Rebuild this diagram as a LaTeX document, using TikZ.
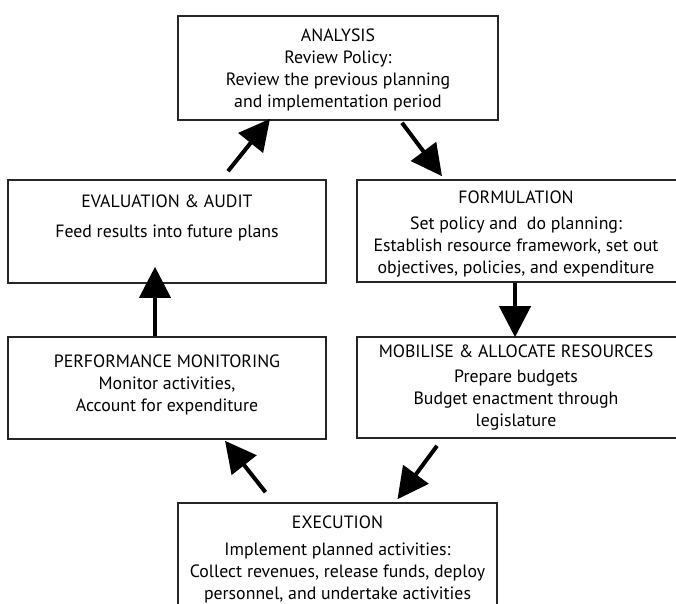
\documentclass[tikz,border=0pt]{standalone}
\usepackage{fontspec}
\setmainfont{PT Sans}
\usetikzlibrary{arrows.meta,calc}
\tikzset{
  box/.style={draw=black!85, line width=1.6pt, rectangle, inner sep=0pt},
  txt/.style={align=center, inner sep=0pt, font=\fontsize{17.8}{22}\selectfont},
  arr/.style={line width=4pt, -{Triangle[length=31pt,width=31pt]}}
}
\begin{document}
\begin{tikzpicture}[x=1pt,y=-1pt]
				\useasboundingbox (0,0) rectangle (676,603);
				% boxes
				\node[box, minimum width=320pt, minimum height=104pt] (analysis) at (338,68) {};
				\node[box, minimum width=318pt, minimum height=103pt] (evalaud) at (167,231.5) {};
				\node[box, minimum width=326pt, minimum height=102pt] (formul) at (520,231) {};
				\node[box, minimum width=318pt, minimum height=102pt] (perfmon) at (167,388) {};
				\node[box, minimum width=326pt, minimum height=101pt] (mobil) at (520,387.5) {};
				\node[box, minimum width=319pt, minimum height=140pt] (exec) at (337.5,573) {};
				% texts
				\node[txt] (analysis-t) at (338,70) {ANALYSIS\\Review Policy:\\Review the previous planning\\and implementation period};
				\node[txt] (evalaud-t) at (167,218) {EVALUATION \& AUDIT\\[8pt]Feed results into future plans};
				\node[txt] (formul-t) at (516,234) {FORMULATION\\[4pt]Set policy and\ \ do planning:\\Establish resource framework, set out\\objectives, policies, and expenditure};
				\node[txt] (perfmon-t) at (167,385) {PERFORMANCE MONITORING\\Monitor activities,\\Account for expenditure};
				\node[txt] (mobil-t) at (516,388) {MOBILISE \& ALLOCATE RESOURCES\\[3pt]Prepare budgets\\Budget enactment through\\legislature};
				\node[txt] (exec-t) at (337.5,559) {EXECUTION\\[5pt]Implement planned activities:\\Collect revenues, release funds, deploy\\personnel, and undertake activities};
				% arrows
				\draw[arr] ($(evalaud.north)+(61,-8)$) -- ($(analysis.south)+(-68,-2)$);
				\draw[arr] ($(analysis.south)+(64,2)$) -- ($(formul.north)+(-78,-3)$);
				\draw[arr] ($(formul.south)+(-5,0)$) -- ($(mobil.north)+(-5,1)$);
				\draw[arr] ($(mobil.south)+(-83,7)$) -- ($(exec.north)+(60,-3)$);
				\draw[arr] ($(exec.north)+(-72,-10)$) -- ($(perfmon.south)+(58,1)$);
				\draw[arr] ($(perfmon.north)+(-12,0)$) -- ($(evalaud.south)+(-12,-17)$);
\end{tikzpicture}
\end{document}
